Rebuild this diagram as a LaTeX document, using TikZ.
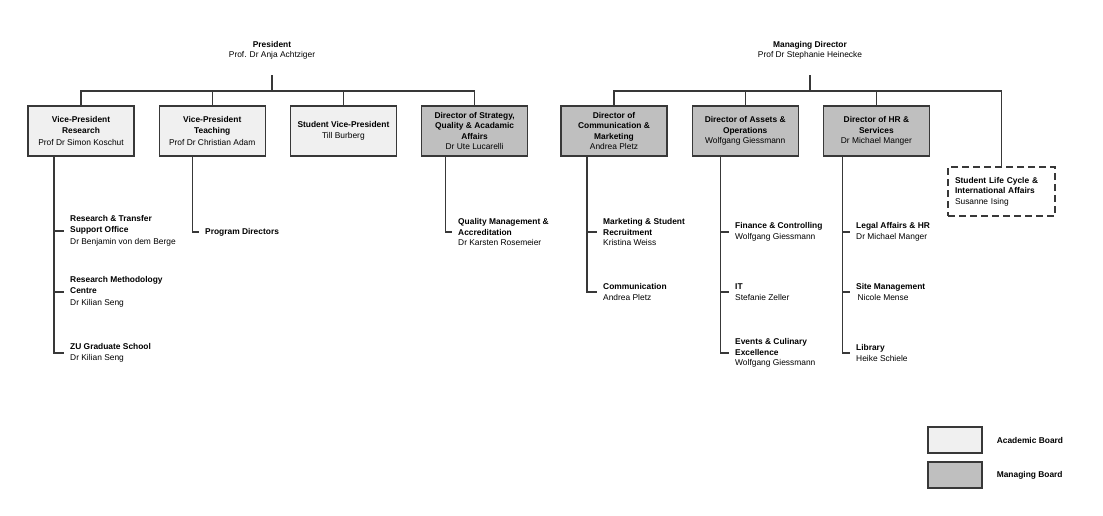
\documentclass[tikz,border=0pt]{standalone}
\usepackage{fontspec}
\setmainfont{Liberation Sans}
\usetikzlibrary{positioning}
\definecolor{acad}{gray}{0.94}
\definecolor{mgmt}{gray}{0.75}
\definecolor{ink}{gray}{0.22}

\begin{document}
\begin{tikzpicture}[x=1pt, y=-1pt, node distance=24pt, font=\fontsize{8.4}{10.5}\selectfont,
  box/.style = {draw=ink, line width=1.2pt, minimum width=106pt, minimum height=50pt, inner sep=2pt, align=center},
  acadbox/.style = {box, fill=acad},
  mgmtbox/.style = {box, fill=mgmt},
  unit/.style = {anchor=west, inner xsep=6pt, inner ysep=0pt, align=left},
  link/.style = {draw=ink, line width=1.2pt}]
\useasboundingbox (0,0) rectangle (1103,515);

% heads
\node[align=center] (pres) at (272,50.5) {\textbf{President}\\Prof. Dr Anja Achtziger};
\node[align=center] (md) at (810,50.5) {\textbf{Managing Director}\\Prof Dr Stephanie Heinecke};
\coordinate (ptop) at (272,75);
\coordinate (pbus) at (272,91);
\coordinate (mtop) at (810,75);
\coordinate (mbus) at (810,91);

% academic side
\node[acadbox] (vpr) at (81,131) {\textbf{Vice-President}\\\textbf{Research}\\[2pt]Prof Dr Simon Koschut};
\node[acadbox, right=of vpr] (vpt) {\textbf{Vice-President}\\\textbf{Teaching}\\[2pt]Prof Dr Christian Adam};
\node[acadbox, right=of vpt] (svp) {\textbf{Student Vice-President}\\Till Burberg};
\node[mgmtbox, right=of svp] (dsq) {\textbf{Director of Strategy,}\\\textbf{Quality \& Acadamic}\\\textbf{Affairs}\\Dr Ute Lucarelli};

% managing side
\node[mgmtbox] (dcm) at (614,131) {\textbf{Director of}\\\textbf{Communication \&}\\\textbf{Marketing}\\Andrea Pletz};
\node[mgmtbox, right=of dcm] (dao) {\textbf{Director of Assets \&}\\\textbf{Operations}\\Wolfgang Giessmann};
\node[mgmtbox, right=of dao] (dhr) {\textbf{Director of HR \&}\\\textbf{Services}\\Dr Michael Manger};
\node[draw=ink, line width=1.2pt, dash pattern=on 7pt off 4pt, text width=93pt, inner xsep=7pt, minimum height=49pt, align=left] (slc) at (1001.5,191.5) {\textbf{Student Life Cycle \&}\\\textbf{International Affairs}\\Susanne Ising};

% units
\node[unit] (rto) at (64,231) {\textbf{Research \& Transfer}\\\textbf{Support Office}\\[2pt]Dr Benjamin von dem Berge};
\node[unit] (rmc) at (64,292) {\textbf{Research Methodology}\\\textbf{Centre}\\[2pt]Dr Kilian Seng};
\node[unit] (zgs) at (64,353) {\textbf{ZU Graduate School}\\Dr Kilian Seng};
\node[unit] (prd) at (199,232) {\textbf{Program Directors}};
\node[unit] (qma) at (452,232) {\textbf{Quality Management \&}\\\textbf{Accreditation}\\Dr Karsten Rosemeier};
\node[unit] (msr) at (597,232) {\textbf{Marketing \& Student}\\\textbf{Recruitment}\\Kristina Weiss};
\node[unit] (com) at (597,292) {\textbf{Communication}\\Andrea Pletz};
\node[unit] (fin) at (729,232) {\textbf{Finance \& Controlling}\\Wolfgang Giessmann};
\node[unit] (itd) at (729,292) {\textbf{IT}\\Stefanie Zeller};
\node[unit] (evc) at (729,353) {\textbf{Events \& Culinary}\\\textbf{Excellence}\\Wolfgang Giessmann};
\node[unit] (leg) at (850,232) {\textbf{Legal Affairs \& HR}\\Dr Michael Manger};
\node[unit] (site) at (850,292) {\textbf{Site Management}\\\,Nicole Mense};
\node[unit] (lib) at (850,353) {\textbf{Library}\\Heike Schiele};

% legend
\node[acadbox, minimum width=54pt, minimum height=26pt] (lgacad) at (955,440) {};
\node[mgmtbox, minimum width=54pt, minimum height=26pt] (lgmgmt) at (955,475) {};
\node[right=14pt of lgacad, inner sep=0pt] (lgacadtxt) {\textbf{Academic Board}};
\node[right=14pt of lgmgmt, inner sep=0pt] (lgmgmttxt) {\textbf{Managing Board}};

% bus lines
\draw[link] (ptop) -- (pbus);
\draw[link] (pbus) -| (vpr.north);
\draw[link] (pbus) -| (vpt.north);
\draw[link] (pbus) -| (svp.north);
\draw[link] (pbus) -| (dsq.north);
\draw[link] (mtop) -- (mbus);
\draw[link] (mbus) -| (dcm.north);
\draw[link] (mbus) -| (dao.north);
\draw[link] (mbus) -| (dhr.north);
\draw[link] (mbus) -| (slc.north);

% unit lines
\draw[link] ([xshift=-27pt]vpr.south) |- (rto.west);
\draw[link] ([xshift=-27pt]vpr.south) |- (rmc.west);
\draw[link] ([xshift=-27pt]vpr.south) |- (zgs.west);
\draw[link] ([xshift=-20pt]vpt.south) |- (prd.west);
\draw[link] ([xshift=-29pt]dsq.south) |- (qma.west);
\draw[link] ([xshift=-27pt]dcm.south) |- (msr.west);
\draw[link] ([xshift=-27pt]dcm.south) |- (com.west);
\draw[link] ([xshift=-25pt]dao.south) |- (fin.west);
\draw[link] ([xshift=-25pt]dao.south) |- (itd.west);
\draw[link] ([xshift=-25pt]dao.south) |- (evc.west);
\draw[link] ([xshift=-34pt]dhr.south) |- (leg.west);
\draw[link] ([xshift=-34pt]dhr.south) |- (site.west);
\draw[link] ([xshift=-34pt]dhr.south) |- (lib.west);
\end{tikzpicture}
\end{document}
